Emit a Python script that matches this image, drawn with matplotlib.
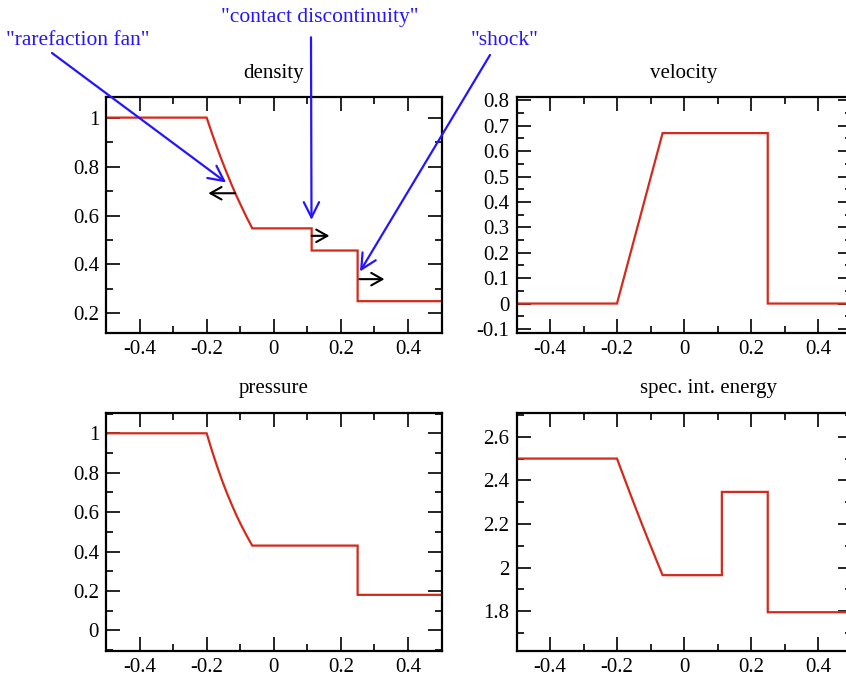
"""Sod shock tube: density, velocity, pressure and specific internal energy profiles."""

import matplotlib
matplotlib.use("Agg")
import matplotlib.pyplot as plt
from matplotlib.ticker import MultipleLocator

RED = "#d42a1c"
BLUE = "#2414ff"

# positions along the tube (shared by all four profiles)
x = [-0.5, -0.2, -0.185, -0.17, -0.155, -0.14, -0.125, -0.11, -0.095, -0.08, -0.072, -0.064,
     0.113, 0.113, 0.25, 0.25, 0.5]
density = [1.0, 1.0, 0.939, 0.881, 0.826, 0.774, 0.724, 0.677, 0.633, 0.590, 0.569, 0.5475,
           0.5475, 0.457, 0.457, 0.25, 0.25]
velocity = [0.0, 0.0, 0.074, 0.148, 0.222, 0.296, 0.370, 0.444, 0.518, 0.592, 0.631, 0.671,
            0.671, 0.671, 0.671, 0.0, 0.0]
pressure = [1.0, 1.0, 0.916, 0.838, 0.765, 0.698, 0.637, 0.579, 0.527, 0.478, 0.454, 0.430,
            0.430, 0.430, 0.430, 0.18, 0.18]
energy = [2.5, 2.5, 2.438, 2.377, 2.316, 2.256, 2.197, 2.139, 2.082, 2.025, 1.995, 1.965,
          1.965, 2.347, 2.347, 1.795, 1.795]

titles = ["density", "velocity", "pressure", "spec. int. energy"]
series = [density, velocity, pressure, energy]
ylims = [(0.12, 1.083), (-0.116, 0.812), (-0.105, 1.104), (1.617, 2.71)]
ymajor = [0.2, 0.1, 0.2, 0.2]
yminor = [0.1, 0.05, 0.1, 0.1]

plt.rcParams["font.family"] = ["Liberation Serif", "DejaVu Serif"]
plt.rcParams["axes.unicode_minus"] = False

W, H = 846, 676
fig = plt.figure(figsize=(W / 100, H / 100), dpi=100)

# axes boxes in pixels: left, top, right, bottom (right column runs past the edge)
boxes = [(106, 97.3, 441.5, 333), (516.5, 97.3, 851.5, 333),
         (106, 412.8, 441.5, 651), (516.5, 412.8, 851.5, 651)]


def _num(v, _):
    return f"{v:g}" if abs(v) > 1e-9 else "0"


axes = []
for i, (l, t, r, b) in enumerate(boxes):
    ax = fig.add_axes([l / W, 1 - b / H, (r - l) / W, (b - t) / H])
    ax.plot(x, series[i], color=RED, lw=1.6, solid_joinstyle="miter")
    ax.set_xlim(-0.5, 0.5)
    ax.set_ylim(*ylims[i])
    ax.xaxis.set_major_locator(MultipleLocator(0.2))
    ax.xaxis.set_minor_locator(MultipleLocator(0.1))
    ax.yaxis.set_major_locator(MultipleLocator(ymajor[i]))
    ax.yaxis.set_minor_locator(MultipleLocator(yminor[i]))
    ax.xaxis.set_major_formatter(plt.FuncFormatter(_num))
    ax.yaxis.set_major_formatter(plt.FuncFormatter(_num))
    ax.tick_params(which="both", direction="in", top=True, right=True, width=1.2,
                   labelsize=15, pad=5)
    ax.tick_params(which="major", length=10)
    ax.tick_params(which="minor", length=5)
    for s in ax.spines.values():
        s.set_linewidth(1.6)
    if i == 3:
        ax.set_title(titles[i], fontsize=15, pad=14, x=0.573)
    else:
        ax.set_title(titles[i], fontsize=15, pad=14)
    axes.append(ax)

ax_rho = axes[0]

# black arrows: direction of travel of each wave
wave_arrows = [((-0.1155, 0.691), (-0.195, 0.691)),
               ((0.113, 0.517), (0.166, 0.517)),
               ((0.2554, 0.340), (0.33, 0.340))]
for start, end in wave_arrows:
    ax_rho.annotate("", xy=end, xytext=start, xycoords="data", textcoords="data",
                    arrowprops=dict(arrowstyle="->,head_length=0.8,head_width=0.45",
                                    mutation_scale=10, color="black", lw=1.5,
                                    shrinkA=0, shrinkB=0))

# blue labels with pointers into the density panel
labels = ['"rarefaction fan"', '"contact discontinuity"', '"shock"']
label_pos = [(78, 45), (319.5, 21.7), (505, 45)]
pointer_start = [(52, 53), (311, 37.3), (490, 55)]
pointer_tip = [(-0.142, 0.735), (0.1125, 0.582), (0.257, 0.371)]
for text, (tx, ty), (sx, sy), tip in zip(labels, label_pos, pointer_start, pointer_tip):
    fig.text(tx / W, 1 - ty / H, text, color=BLUE, fontsize=15.5, ha="center", va="baseline")
    ax_rho.annotate("", xy=tip, xycoords="data", xytext=(sx, H - sy),
                    textcoords="figure pixels", annotation_clip=False,
                    arrowprops=dict(arrowstyle="->,head_length=1.1,head_width=0.55",
                                    mutation_scale=10, color=BLUE, lw=1.6,
                                    shrinkA=0, shrinkB=0))

fig.savefig("out.png", dpi=100)
